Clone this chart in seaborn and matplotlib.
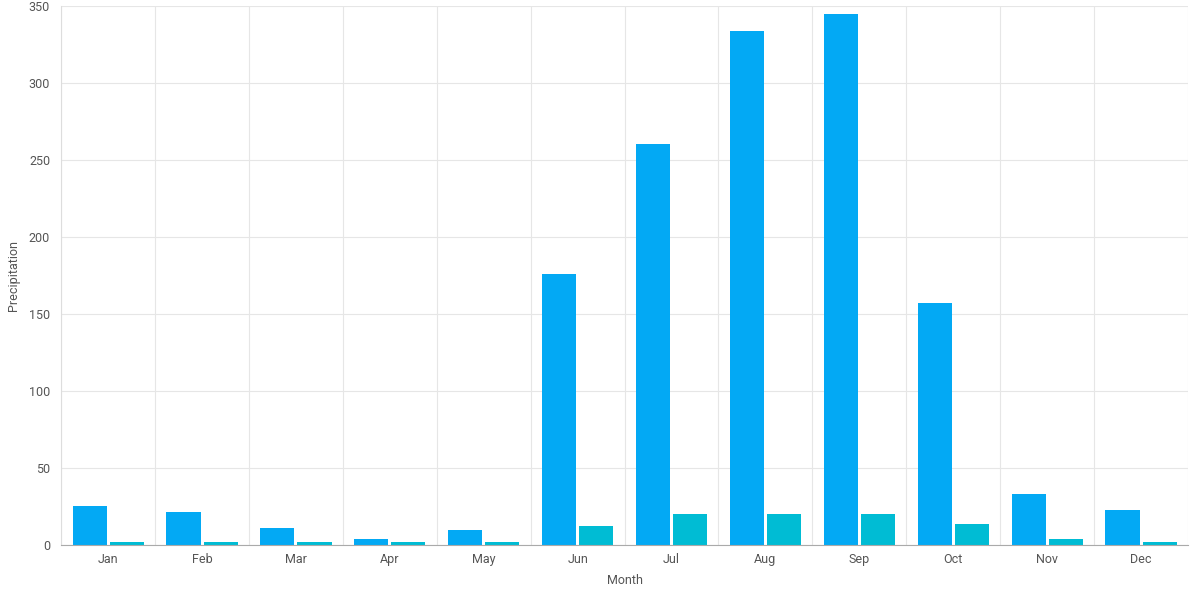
import numpy as np
import pandas as pd
import matplotlib
matplotlib.use('Agg')
import matplotlib.pyplot as plt
import seaborn as sns

months = ['Jan', 'Feb', 'Mar', 'Apr', 'May', 'Jun', 'Jul', 'Aug', 'Sep', 'Oct', 'Nov', 'Dec']
rain = [25.5, 21.6, 10.6, 3.5, 9.3, 176.0, 260.4, 333.8, 344.8, 157.1, 33.3, 22.3]
days = [2.1, 2.1, 1.5, 1.5, 1.5, 12.5, 19.7, 20.3, 20.3, 13.2, 3.5, 2.1]

df = pd.DataFrame({
    'Month': months * 2,
    'Precipitation': rain + days,
    'series': ['Rainfall'] * 12 + ['Rainy days'] * 12,
})

sns.set_style('white')
plt.rcParams['font.family'] = ['Liberation Sans Narrow', 'Roboto', 'DejaVu Sans']

fig, ax = plt.subplots(figsize=(12, 6), dpi=100)
fig.subplots_adjust(left=0.051, right=0.99, top=0.99, bottom=0.092)

sns.barplot(data=df, x='Month', y='Precipitation', hue='series',
            palette=['#03A9F4', '#00BCD4'], width=0.79, gap=0.08,
            saturation=1, legend=False, linewidth=0, ax=ax)

ax.set_ylim(0, 350)
ax.set_xlim(-0.5, 11.5)
ax.set_yticks(np.arange(0, 351, 50))
ax.yaxis.grid(True, color='#e6e6e6', linewidth=0.8)
ax.set_xticks(np.arange(-0.5, 12, 1), minor=True)
ax.xaxis.grid(True, which='minor', color='#e6e6e6', linewidth=0.8)
ax.set_axisbelow(True)

ax.tick_params(axis='x', which='major', length=0, pad=6, labelsize=9, labelcolor='#555555')
ax.tick_params(axis='x', which='minor', length=8, color='#e0e0e0', width=0.8)
ax.tick_params(axis='y', length=6, color='#e0e0e0', width=0.8, labelsize=9, labelcolor='#555555', pad=2)

for side in ['top', 'right']:
    ax.spines[side].set_visible(False)
ax.spines['left'].set_color('#dddddd')
ax.spines['left'].set_linewidth(0.8)
ax.spines['bottom'].set_color('#aaaaaa')

ax.set_xlabel('Month', fontsize=9, color='#555555', labelpad=6)
ax.set_ylabel('Precipitation', fontsize=9, color='#555555', labelpad=6)

plt.savefig('out.png', dpi=100)
